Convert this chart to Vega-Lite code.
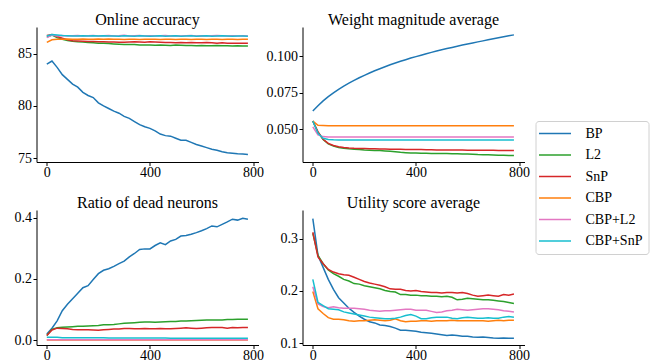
{
  "$schema": "https://vega.github.io/schema/vega-lite/v6.json",
  "padding": {"left": 13.5, "top": 11, "right": 2, "bottom": 0},
  "data": {"values": [
    {"p":"acc","x":0,"BP":84.00,"L2":86.60,"SnP":86.75,"CBP":86.10,"CBP+L2":86.55,"CBP+SnP":86.70},
    {"p":"acc","x":20,"BP":84.30,"L2":86.80,"SnP":86.85,"CBP":86.35,"CBP+L2":86.80,"CBP+SnP":86.85},
    {"p":"acc","x":40,"BP":83.70,"L2":86.55,"SnP":86.65,"CBP":86.40,"CBP+L2":86.70,"CBP+SnP":86.80},
    {"p":"acc","x":60,"BP":83.00,"L2":86.40,"SnP":86.50,"CBP":86.40,"CBP+L2":86.75,"CBP+SnP":86.75},
    {"p":"acc","x":80,"BP":82.55,"L2":86.28,"SnP":86.35,"CBP":86.42,"CBP+L2":86.70,"CBP+SnP":86.72},
    {"p":"acc","x":100,"BP":82.10,"L2":86.20,"SnP":86.25,"CBP":86.40,"CBP+L2":86.72,"CBP+SnP":86.70},
    {"p":"acc","x":120,"BP":81.80,"L2":86.15,"SnP":86.22,"CBP":86.40,"CBP+L2":86.75,"CBP+SnP":86.70},
    {"p":"acc","x":140,"BP":81.30,"L2":86.12,"SnP":86.20,"CBP":86.42,"CBP+L2":86.70,"CBP+SnP":86.72},
    {"p":"acc","x":160,"BP":81.00,"L2":86.08,"SnP":86.18,"CBP":86.40,"CBP+L2":86.72,"CBP+SnP":86.70},
    {"p":"acc","x":180,"BP":80.80,"L2":86.05,"SnP":86.18,"CBP":86.40,"CBP+L2":86.75,"CBP+SnP":86.72},
    {"p":"acc","x":200,"BP":80.30,"L2":86.02,"SnP":86.15,"CBP":86.42,"CBP+L2":86.70,"CBP+SnP":86.70},
    {"p":"acc","x":220,"BP":80.00,"L2":86.00,"SnP":86.15,"CBP":86.40,"CBP+L2":86.72,"CBP+SnP":86.72},
    {"p":"acc","x":240,"BP":79.75,"L2":85.98,"SnP":86.12,"CBP":86.42,"CBP+L2":86.75,"CBP+SnP":86.70},
    {"p":"acc","x":260,"BP":79.50,"L2":85.95,"SnP":86.12,"CBP":86.40,"CBP+L2":86.70,"CBP+SnP":86.70},
    {"p":"acc","x":280,"BP":79.30,"L2":85.92,"SnP":86.10,"CBP":86.40,"CBP+L2":86.72,"CBP+SnP":86.68},
    {"p":"acc","x":300,"BP":79.00,"L2":85.90,"SnP":86.10,"CBP":86.38,"CBP+L2":86.78,"CBP+SnP":86.72},
    {"p":"acc","x":320,"BP":78.80,"L2":85.88,"SnP":86.12,"CBP":86.40,"CBP+L2":86.70,"CBP+SnP":86.70},
    {"p":"acc","x":340,"BP":78.50,"L2":85.88,"SnP":86.15,"CBP":86.40,"CBP+L2":86.72,"CBP+SnP":86.68},
    {"p":"acc","x":360,"BP":78.20,"L2":85.85,"SnP":86.12,"CBP":86.38,"CBP+L2":86.75,"CBP+SnP":86.72},
    {"p":"acc","x":380,"BP":78.00,"L2":85.85,"SnP":86.10,"CBP":86.40,"CBP+L2":86.70,"CBP+SnP":86.70},
    {"p":"acc","x":400,"BP":77.85,"L2":85.85,"SnP":86.15,"CBP":86.40,"CBP+L2":86.72,"CBP+SnP":86.68},
    {"p":"acc","x":420,"BP":77.60,"L2":85.82,"SnP":86.12,"CBP":86.40,"CBP+L2":86.70,"CBP+SnP":86.70},
    {"p":"acc","x":440,"BP":77.30,"L2":85.85,"SnP":86.10,"CBP":86.38,"CBP+L2":86.72,"CBP+SnP":86.72},
    {"p":"acc","x":460,"BP":77.15,"L2":85.82,"SnP":86.08,"CBP":86.40,"CBP+L2":86.75,"CBP+SnP":86.68},
    {"p":"acc","x":480,"BP":77.10,"L2":85.80,"SnP":86.08,"CBP":86.40,"CBP+L2":86.70,"CBP+SnP":86.70},
    {"p":"acc","x":500,"BP":76.90,"L2":85.85,"SnP":86.05,"CBP":86.38,"CBP+L2":86.72,"CBP+SnP":86.72},
    {"p":"acc","x":520,"BP":76.70,"L2":85.82,"SnP":86.08,"CBP":86.40,"CBP+L2":86.70,"CBP+SnP":86.68},
    {"p":"acc","x":540,"BP":76.70,"L2":85.80,"SnP":86.05,"CBP":86.40,"CBP+L2":86.72,"CBP+SnP":86.70},
    {"p":"acc","x":560,"BP":76.50,"L2":85.80,"SnP":86.08,"CBP":86.38,"CBP+L2":86.75,"CBP+SnP":86.72},
    {"p":"acc","x":580,"BP":76.30,"L2":85.78,"SnP":86.05,"CBP":86.40,"CBP+L2":86.70,"CBP+SnP":86.68},
    {"p":"acc","x":600,"BP":76.15,"L2":85.80,"SnP":86.05,"CBP":86.40,"CBP+L2":86.72,"CBP+SnP":86.70},
    {"p":"acc","x":620,"BP":76.00,"L2":85.78,"SnP":86.08,"CBP":86.38,"CBP+L2":86.70,"CBP+SnP":86.72},
    {"p":"acc","x":640,"BP":75.85,"L2":85.78,"SnP":86.05,"CBP":86.40,"CBP+L2":86.72,"CBP+SnP":86.68},
    {"p":"acc","x":660,"BP":75.75,"L2":85.80,"SnP":86.02,"CBP":86.40,"CBP+L2":86.75,"CBP+SnP":86.70},
    {"p":"acc","x":680,"BP":75.60,"L2":85.78,"SnP":86.05,"CBP":86.38,"CBP+L2":86.72,"CBP+SnP":86.72},
    {"p":"acc","x":700,"BP":75.50,"L2":85.78,"SnP":86.02,"CBP":86.40,"CBP+L2":86.70,"CBP+SnP":86.70},
    {"p":"acc","x":720,"BP":75.45,"L2":85.75,"SnP":86.02,"CBP":86.40,"CBP+L2":86.72,"CBP+SnP":86.68},
    {"p":"acc","x":740,"BP":75.40,"L2":85.78,"SnP":86.00,"CBP":86.38,"CBP+L2":86.70,"CBP+SnP":86.70},
    {"p":"acc","x":760,"BP":75.38,"L2":85.75,"SnP":86.02,"CBP":86.40,"CBP+L2":86.72,"CBP+SnP":86.70},
    {"p":"acc","x":780,"BP":75.35,"L2":85.75,"SnP":86.00,"CBP":86.40,"CBP+L2":86.70,"CBP+SnP":86.68},

    {"p":"wm","x":0,"BP":0.0623,"L2":0.0555,"SnP":0.0555,"CBP":0.0555,"CBP+L2":0.0515,"CBP+SnP":0.0555},
    {"p":"wm","x":20,"BP":0.0660,"L2":0.0478,"SnP":0.0480,"CBP":0.0525,"CBP+L2":0.0460,"CBP+SnP":0.0470},
    {"p":"wm","x":40,"BP":0.0693,"L2":0.0428,"SnP":0.0430,"CBP":0.0524,"CBP+L2":0.0448,"CBP+SnP":0.0437},
    {"p":"wm","x":60,"BP":0.0722,"L2":0.0398,"SnP":0.0402,"CBP":0.0523,"CBP+L2":0.0446,"CBP+SnP":0.0428},
    {"p":"wm","x":80,"BP":0.0748,"L2":0.0383,"SnP":0.0387,"CBP":0.0523,"CBP+L2":0.0445,"CBP+SnP":0.0426},
    {"p":"wm","x":100,"BP":0.0772,"L2":0.0374,"SnP":0.0378,"CBP":0.0522,"CBP+L2":0.0445,"CBP+SnP":0.0425},
    {"p":"wm","x":120,"BP":0.0794,"L2":0.0369,"SnP":0.0373,"CBP":0.0523,"CBP+L2":0.0445,"CBP+SnP":0.0425},
    {"p":"wm","x":140,"BP":0.0814,"L2":0.0365,"SnP":0.0370,"CBP":0.0522,"CBP+L2":0.0445,"CBP+SnP":0.0425},
    {"p":"wm","x":160,"BP":0.0833,"L2":0.0362,"SnP":0.0368,"CBP":0.0523,"CBP+L2":0.0445,"CBP+SnP":0.0425},
    {"p":"wm","x":180,"BP":0.0851,"L2":0.0360,"SnP":0.0367,"CBP":0.0522,"CBP+L2":0.0445,"CBP+SnP":0.0425},
    {"p":"wm","x":200,"BP":0.0868,"L2":0.0357,"SnP":0.0366,"CBP":0.0522,"CBP+L2":0.0445,"CBP+SnP":0.0425},
    {"p":"wm","x":220,"BP":0.0884,"L2":0.0355,"SnP":0.0365,"CBP":0.0523,"CBP+L2":0.0445,"CBP+SnP":0.0425},
    {"p":"wm","x":240,"BP":0.0899,"L2":0.0353,"SnP":0.0364,"CBP":0.0522,"CBP+L2":0.0445,"CBP+SnP":0.0425},
    {"p":"wm","x":260,"BP":0.0913,"L2":0.0352,"SnP":0.0363,"CBP":0.0522,"CBP+L2":0.0445,"CBP+SnP":0.0425},
    {"p":"wm","x":280,"BP":0.0927,"L2":0.0350,"SnP":0.0363,"CBP":0.0523,"CBP+L2":0.0445,"CBP+SnP":0.0425},
    {"p":"wm","x":300,"BP":0.0940,"L2":0.0347,"SnP":0.0362,"CBP":0.0522,"CBP+L2":0.0445,"CBP+SnP":0.0425},
    {"p":"wm","x":320,"BP":0.0952,"L2":0.0344,"SnP":0.0361,"CBP":0.0522,"CBP+L2":0.0445,"CBP+SnP":0.0425},
    {"p":"wm","x":340,"BP":0.0964,"L2":0.0340,"SnP":0.0361,"CBP":0.0523,"CBP+L2":0.0445,"CBP+SnP":0.0425},
    {"p":"wm","x":360,"BP":0.0975,"L2":0.0338,"SnP":0.0360,"CBP":0.0522,"CBP+L2":0.0445,"CBP+SnP":0.0425},
    {"p":"wm","x":380,"BP":0.0986,"L2":0.0336,"SnP":0.0360,"CBP":0.0522,"CBP+L2":0.0445,"CBP+SnP":0.0425},
    {"p":"wm","x":400,"BP":0.0996,"L2":0.0335,"SnP":0.0359,"CBP":0.0523,"CBP+L2":0.0445,"CBP+SnP":0.0425},
    {"p":"wm","x":420,"BP":0.1006,"L2":0.0334,"SnP":0.0359,"CBP":0.0522,"CBP+L2":0.0445,"CBP+SnP":0.0425},
    {"p":"wm","x":440,"BP":0.1016,"L2":0.0334,"SnP":0.0358,"CBP":0.0522,"CBP+L2":0.0445,"CBP+SnP":0.0425},
    {"p":"wm","x":460,"BP":0.1025,"L2":0.0333,"SnP":0.0358,"CBP":0.0523,"CBP+L2":0.0445,"CBP+SnP":0.0425},
    {"p":"wm","x":480,"BP":0.1034,"L2":0.0333,"SnP":0.0357,"CBP":0.0522,"CBP+L2":0.0445,"CBP+SnP":0.0425},
    {"p":"wm","x":500,"BP":0.1043,"L2":0.0333,"SnP":0.0357,"CBP":0.0522,"CBP+L2":0.0445,"CBP+SnP":0.0425},
    {"p":"wm","x":520,"BP":0.1051,"L2":0.0332,"SnP":0.0357,"CBP":0.0523,"CBP+L2":0.0445,"CBP+SnP":0.0425},
    {"p":"wm","x":540,"BP":0.1059,"L2":0.0331,"SnP":0.0356,"CBP":0.0522,"CBP+L2":0.0445,"CBP+SnP":0.0425},
    {"p":"wm","x":560,"BP":0.1067,"L2":0.0330,"SnP":0.0356,"CBP":0.0522,"CBP+L2":0.0445,"CBP+SnP":0.0425},
    {"p":"wm","x":580,"BP":0.1075,"L2":0.0329,"SnP":0.0356,"CBP":0.0523,"CBP+L2":0.0445,"CBP+SnP":0.0425},
    {"p":"wm","x":600,"BP":0.1083,"L2":0.0328,"SnP":0.0355,"CBP":0.0522,"CBP+L2":0.0445,"CBP+SnP":0.0425},
    {"p":"wm","x":620,"BP":0.1090,"L2":0.0327,"SnP":0.0355,"CBP":0.0522,"CBP+L2":0.0445,"CBP+SnP":0.0425},
    {"p":"wm","x":640,"BP":0.1097,"L2":0.0325,"SnP":0.0355,"CBP":0.0523,"CBP+L2":0.0445,"CBP+SnP":0.0425},
    {"p":"wm","x":660,"BP":0.1104,"L2":0.0324,"SnP":0.0354,"CBP":0.0522,"CBP+L2":0.0445,"CBP+SnP":0.0425},
    {"p":"wm","x":680,"BP":0.1111,"L2":0.0323,"SnP":0.0354,"CBP":0.0522,"CBP+L2":0.0445,"CBP+SnP":0.0425},
    {"p":"wm","x":700,"BP":0.1118,"L2":0.0322,"SnP":0.0354,"CBP":0.0523,"CBP+L2":0.0445,"CBP+SnP":0.0425},
    {"p":"wm","x":720,"BP":0.1125,"L2":0.0321,"SnP":0.0353,"CBP":0.0522,"CBP+L2":0.0445,"CBP+SnP":0.0425},
    {"p":"wm","x":740,"BP":0.1132,"L2":0.0320,"SnP":0.0353,"CBP":0.0522,"CBP+L2":0.0445,"CBP+SnP":0.0425},
    {"p":"wm","x":760,"BP":0.1139,"L2":0.0319,"SnP":0.0353,"CBP":0.0522,"CBP+L2":0.0445,"CBP+SnP":0.0425},
    {"p":"wm","x":780,"BP":0.1145,"L2":0.0319,"SnP":0.0353,"CBP":0.0522,"CBP+L2":0.0445,"CBP+SnP":0.0425},

    {"p":"dead","x":0,"BP":0.020,"L2":0.015,"SnP":0.015,"CBP":0.000,"CBP+L2":0.001,"CBP+SnP":0.009},
    {"p":"dead","x":20,"BP":0.039,"L2":0.035,"SnP":0.033,"CBP":0.000,"CBP+L2":0.001,"CBP+SnP":0.009},
    {"p":"dead","x":40,"BP":0.063,"L2":0.040,"SnP":0.039,"CBP":0.000,"CBP+L2":0.001,"CBP+SnP":0.009},
    {"p":"dead","x":60,"BP":0.096,"L2":0.042,"SnP":0.038,"CBP":0.000,"CBP+L2":0.001,"CBP+SnP":0.008},
    {"p":"dead","x":80,"BP":0.117,"L2":0.043,"SnP":0.037,"CBP":0.000,"CBP+L2":0.001,"CBP+SnP":0.008},
    {"p":"dead","x":100,"BP":0.135,"L2":0.044,"SnP":0.035,"CBP":0.000,"CBP+L2":0.001,"CBP+SnP":0.008},
    {"p":"dead","x":120,"BP":0.153,"L2":0.045,"SnP":0.034,"CBP":0.000,"CBP+L2":0.001,"CBP+SnP":0.008},
    {"p":"dead","x":140,"BP":0.171,"L2":0.045,"SnP":0.034,"CBP":0.000,"CBP+L2":0.001,"CBP+SnP":0.008},
    {"p":"dead","x":160,"BP":0.178,"L2":0.046,"SnP":0.034,"CBP":0.000,"CBP+L2":0.001,"CBP+SnP":0.008},
    {"p":"dead","x":180,"BP":0.198,"L2":0.047,"SnP":0.033,"CBP":0.000,"CBP+L2":0.001,"CBP+SnP":0.008},
    {"p":"dead","x":200,"BP":0.217,"L2":0.048,"SnP":0.032,"CBP":0.000,"CBP+L2":0.001,"CBP+SnP":0.008},
    {"p":"dead","x":220,"BP":0.228,"L2":0.050,"SnP":0.034,"CBP":0.000,"CBP+L2":0.001,"CBP+SnP":0.008},
    {"p":"dead","x":240,"BP":0.233,"L2":0.050,"SnP":0.035,"CBP":0.000,"CBP+L2":0.001,"CBP+SnP":0.007},
    {"p":"dead","x":260,"BP":0.241,"L2":0.051,"SnP":0.036,"CBP":0.000,"CBP+L2":0.001,"CBP+SnP":0.007},
    {"p":"dead","x":280,"BP":0.250,"L2":0.053,"SnP":0.036,"CBP":0.000,"CBP+L2":0.001,"CBP+SnP":0.007},
    {"p":"dead","x":300,"BP":0.258,"L2":0.055,"SnP":0.038,"CBP":0.000,"CBP+L2":0.001,"CBP+SnP":0.007},
    {"p":"dead","x":320,"BP":0.272,"L2":0.056,"SnP":0.038,"CBP":0.000,"CBP+L2":0.001,"CBP+SnP":0.007},
    {"p":"dead","x":340,"BP":0.283,"L2":0.057,"SnP":0.037,"CBP":0.000,"CBP+L2":0.001,"CBP+SnP":0.007},
    {"p":"dead","x":360,"BP":0.296,"L2":0.058,"SnP":0.037,"CBP":0.000,"CBP+L2":0.001,"CBP+SnP":0.007},
    {"p":"dead","x":380,"BP":0.298,"L2":0.059,"SnP":0.038,"CBP":0.000,"CBP+L2":0.001,"CBP+SnP":0.007},
    {"p":"dead","x":400,"BP":0.298,"L2":0.059,"SnP":0.037,"CBP":0.000,"CBP+L2":0.001,"CBP+SnP":0.007},
    {"p":"dead","x":420,"BP":0.309,"L2":0.058,"SnP":0.037,"CBP":0.000,"CBP+L2":0.001,"CBP+SnP":0.007},
    {"p":"dead","x":440,"BP":0.318,"L2":0.059,"SnP":0.038,"CBP":0.000,"CBP+L2":0.001,"CBP+SnP":0.007},
    {"p":"dead","x":460,"BP":0.312,"L2":0.060,"SnP":0.037,"CBP":0.000,"CBP+L2":0.001,"CBP+SnP":0.007},
    {"p":"dead","x":480,"BP":0.324,"L2":0.061,"SnP":0.037,"CBP":0.000,"CBP+L2":0.001,"CBP+SnP":0.006},
    {"p":"dead","x":500,"BP":0.329,"L2":0.061,"SnP":0.038,"CBP":0.000,"CBP+L2":0.001,"CBP+SnP":0.006},
    {"p":"dead","x":520,"BP":0.340,"L2":0.062,"SnP":0.039,"CBP":0.000,"CBP+L2":0.001,"CBP+SnP":0.006},
    {"p":"dead","x":540,"BP":0.342,"L2":0.062,"SnP":0.040,"CBP":0.000,"CBP+L2":0.001,"CBP+SnP":0.006},
    {"p":"dead","x":560,"BP":0.346,"L2":0.063,"SnP":0.039,"CBP":0.000,"CBP+L2":0.001,"CBP+SnP":0.006},
    {"p":"dead","x":580,"BP":0.351,"L2":0.064,"SnP":0.038,"CBP":0.000,"CBP+L2":0.001,"CBP+SnP":0.006},
    {"p":"dead","x":600,"BP":0.357,"L2":0.065,"SnP":0.039,"CBP":0.000,"CBP+L2":0.001,"CBP+SnP":0.006},
    {"p":"dead","x":620,"BP":0.364,"L2":0.066,"SnP":0.040,"CBP":0.000,"CBP+L2":0.001,"CBP+SnP":0.006},
    {"p":"dead","x":640,"BP":0.373,"L2":0.066,"SnP":0.041,"CBP":0.000,"CBP+L2":0.001,"CBP+SnP":0.006},
    {"p":"dead","x":660,"BP":0.370,"L2":0.066,"SnP":0.041,"CBP":0.000,"CBP+L2":0.001,"CBP+SnP":0.006},
    {"p":"dead","x":680,"BP":0.378,"L2":0.066,"SnP":0.041,"CBP":0.000,"CBP+L2":0.001,"CBP+SnP":0.006},
    {"p":"dead","x":700,"BP":0.386,"L2":0.067,"SnP":0.039,"CBP":0.000,"CBP+L2":0.001,"CBP+SnP":0.006},
    {"p":"dead","x":720,"BP":0.395,"L2":0.067,"SnP":0.041,"CBP":0.000,"CBP+L2":0.001,"CBP+SnP":0.006},
    {"p":"dead","x":740,"BP":0.392,"L2":0.068,"SnP":0.040,"CBP":0.000,"CBP+L2":0.001,"CBP+SnP":0.006},
    {"p":"dead","x":760,"BP":0.398,"L2":0.068,"SnP":0.041,"CBP":0.000,"CBP+L2":0.001,"CBP+SnP":0.006},
    {"p":"dead","x":780,"BP":0.395,"L2":0.068,"SnP":0.041,"CBP":0.000,"CBP+L2":0.001,"CBP+SnP":0.006},

    {"p":"util","x":0,"BP":0.338,"L2":0.310,"SnP":0.312,"CBP":0.199,"CBP+L2":0.208,"CBP+SnP":0.222},
    {"p":"util","x":20,"BP":0.268,"L2":0.268,"SnP":0.265,"CBP":0.166,"CBP+L2":0.175,"CBP+SnP":0.178},
    {"p":"util","x":40,"BP":0.245,"L2":0.252,"SnP":0.252,"CBP":0.157,"CBP+L2":0.170,"CBP+SnP":0.172},
    {"p":"util","x":60,"BP":0.222,"L2":0.240,"SnP":0.241,"CBP":0.149,"CBP+L2":0.168,"CBP+SnP":0.166},
    {"p":"util","x":80,"BP":0.203,"L2":0.233,"SnP":0.236,"CBP":0.146,"CBP+L2":0.170,"CBP+SnP":0.165},
    {"p":"util","x":100,"BP":0.187,"L2":0.228,"SnP":0.233,"CBP":0.146,"CBP+L2":0.168,"CBP+SnP":0.164},
    {"p":"util","x":120,"BP":0.177,"L2":0.222,"SnP":0.231,"CBP":0.145,"CBP+L2":0.167,"CBP+SnP":0.160},
    {"p":"util","x":140,"BP":0.167,"L2":0.219,"SnP":0.230,"CBP":0.143,"CBP+L2":0.167,"CBP+SnP":0.158},
    {"p":"util","x":160,"BP":0.159,"L2":0.214,"SnP":0.226,"CBP":0.142,"CBP+L2":0.167,"CBP+SnP":0.156},
    {"p":"util","x":180,"BP":0.152,"L2":0.213,"SnP":0.222,"CBP":0.143,"CBP+L2":0.166,"CBP+SnP":0.154},
    {"p":"util","x":200,"BP":0.146,"L2":0.210,"SnP":0.218,"CBP":0.143,"CBP+L2":0.165,"CBP+SnP":0.152},
    {"p":"util","x":220,"BP":0.141,"L2":0.208,"SnP":0.215,"CBP":0.144,"CBP+L2":0.163,"CBP+SnP":0.150},
    {"p":"util","x":240,"BP":0.139,"L2":0.206,"SnP":0.213,"CBP":0.145,"CBP+L2":0.162,"CBP+SnP":0.149},
    {"p":"util","x":260,"BP":0.135,"L2":0.204,"SnP":0.211,"CBP":0.144,"CBP+L2":0.161,"CBP+SnP":0.148},
    {"p":"util","x":280,"BP":0.134,"L2":0.201,"SnP":0.208,"CBP":0.143,"CBP+L2":0.162,"CBP+SnP":0.147},
    {"p":"util","x":300,"BP":0.132,"L2":0.199,"SnP":0.204,"CBP":0.144,"CBP+L2":0.162,"CBP+SnP":0.147},
    {"p":"util","x":320,"BP":0.129,"L2":0.198,"SnP":0.203,"CBP":0.147,"CBP+L2":0.163,"CBP+SnP":0.148},
    {"p":"util","x":340,"BP":0.125,"L2":0.193,"SnP":0.203,"CBP":0.143,"CBP+L2":0.164,"CBP+SnP":0.150},
    {"p":"util","x":360,"BP":0.125,"L2":0.193,"SnP":0.201,"CBP":0.141,"CBP+L2":0.165,"CBP+SnP":0.153},
    {"p":"util","x":380,"BP":0.124,"L2":0.192,"SnP":0.200,"CBP":0.142,"CBP+L2":0.165,"CBP+SnP":0.155},
    {"p":"util","x":400,"BP":0.123,"L2":0.192,"SnP":0.201,"CBP":0.142,"CBP+L2":0.163,"CBP+SnP":0.152},
    {"p":"util","x":420,"BP":0.121,"L2":0.191,"SnP":0.199,"CBP":0.143,"CBP+L2":0.163,"CBP+SnP":0.147},
    {"p":"util","x":440,"BP":0.120,"L2":0.191,"SnP":0.198,"CBP":0.143,"CBP+L2":0.163,"CBP+SnP":0.147},
    {"p":"util","x":460,"BP":0.119,"L2":0.190,"SnP":0.197,"CBP":0.142,"CBP+L2":0.161,"CBP+SnP":0.149},
    {"p":"util","x":480,"BP":0.118,"L2":0.190,"SnP":0.197,"CBP":0.143,"CBP+L2":0.159,"CBP+SnP":0.150},
    {"p":"util","x":500,"BP":0.1165,"L2":0.189,"SnP":0.196,"CBP":0.143,"CBP+L2":0.160,"CBP+SnP":0.150},
    {"p":"util","x":520,"BP":0.115,"L2":0.190,"SnP":0.197,"CBP":0.143,"CBP+L2":0.162,"CBP+SnP":0.150},
    {"p":"util","x":540,"BP":0.116,"L2":0.188,"SnP":0.197,"CBP":0.144,"CBP+L2":0.163,"CBP+SnP":0.148},
    {"p":"util","x":560,"BP":0.115,"L2":0.183,"SnP":0.196,"CBP":0.143,"CBP+L2":0.165,"CBP+SnP":0.147},
    {"p":"util","x":580,"BP":0.1135,"L2":0.184,"SnP":0.197,"CBP":0.143,"CBP+L2":0.164,"CBP+SnP":0.149},
    {"p":"util","x":600,"BP":0.1135,"L2":0.186,"SnP":0.195,"CBP":0.143,"CBP+L2":0.163,"CBP+SnP":0.150},
    {"p":"util","x":620,"BP":0.112,"L2":0.185,"SnP":0.192,"CBP":0.143,"CBP+L2":0.164,"CBP+SnP":0.149},
    {"p":"util","x":640,"BP":0.1115,"L2":0.184,"SnP":0.190,"CBP":0.143,"CBP+L2":0.165,"CBP+SnP":0.148},
    {"p":"util","x":660,"BP":0.112,"L2":0.183,"SnP":0.191,"CBP":0.143,"CBP+L2":0.166,"CBP+SnP":0.148},
    {"p":"util","x":680,"BP":0.111,"L2":0.183,"SnP":0.192,"CBP":0.142,"CBP+L2":0.166,"CBP+SnP":0.149},
    {"p":"util","x":700,"BP":0.110,"L2":0.182,"SnP":0.191,"CBP":0.143,"CBP+L2":0.165,"CBP+SnP":0.148},
    {"p":"util","x":720,"BP":0.1095,"L2":0.181,"SnP":0.190,"CBP":0.144,"CBP+L2":0.164,"CBP+SnP":0.148},
    {"p":"util","x":740,"BP":0.110,"L2":0.180,"SnP":0.193,"CBP":0.143,"CBP+L2":0.162,"CBP+SnP":0.150},
    {"p":"util","x":760,"BP":0.1095,"L2":0.178,"SnP":0.192,"CBP":0.144,"CBP+L2":0.161,"CBP+SnP":0.151},
    {"p":"util","x":780,"BP":0.1095,"L2":0.176,"SnP":0.194,"CBP":0.144,"CBP+L2":0.160,"CBP+SnP":0.150}
  ]},
  "columns": 2,
  "spacing": {"column": 44, "row": 48},
  "bounds": "flush",
  "concat": [
    {
      "title": {"text": "Online accuracy", "font": "Liberation Serif"},
      "width": 222, "height": 135,
      "transform": [{"filter": "datum.p == 'acc'"}, {"fold": ["BP","L2","SnP","CBP","CBP+L2","CBP+SnP"], "as": ["method","value"]}],
      "mark": {"type": "line", "strokeWidth": 1.5},
      "encoding": {
        "x": {"field": "x", "type": "quantitative", "title": null, "scale": {"domain": [-40, 821], "nice": false, "zero": false}, "axis": {"values": [0, 400, 800], "labelFont": "Liberation Serif", "labelPadding": 0}},
        "y": {"field": "value", "type": "quantitative", "title": null, "scale": {"domain": [74.62, 87.57], "nice": false, "zero": false}, "axis": {"values": [75, 80, 85], "labelFont": "Liberation Serif"}},
        "color": {"field": "method", "type": "nominal", "title": null, "sort": ["BP","L2","SnP","CBP","CBP+L2","CBP+SnP"], "scale": {"domain": ["BP","L2","SnP","CBP","CBP+L2","CBP+SnP"], "range": ["#1f77b4","#2ca02c","#d62728","#ff7f0e","#e377c2","#17becf"]}, "legend": {"labelFont": "Liberation Serif"}}
      }
    },
    {
      "title": {"text": "Weight magnitude average", "font": "Liberation Serif"},
      "width": 222, "height": 135,
      "transform": [{"filter": "datum.p == 'wm'"}, {"fold": ["BP","L2","SnP","CBP","CBP+L2","CBP+SnP"], "as": ["method","value"]}],
      "mark": {"type": "line", "strokeWidth": 1.5},
      "encoding": {
        "x": {"field": "x", "type": "quantitative", "title": null, "scale": {"domain": [-40, 821], "nice": false, "zero": false}, "axis": {"values": [0, 400, 800], "labelFont": "Liberation Serif", "labelPadding": 0}},
        "y": {"field": "value", "type": "quantitative", "title": null, "scale": {"domain": [0.0274, 0.1199], "nice": false, "zero": false}, "axis": {"values": [0.05, 0.075, 0.1], "format": ".3f", "labelFont": "Liberation Serif"}},
        "color": {"field": "method", "type": "nominal", "title": null, "sort": ["BP","L2","SnP","CBP","CBP+L2","CBP+SnP"], "scale": {"domain": ["BP","L2","SnP","CBP","CBP+L2","CBP+SnP"], "range": ["#1f77b4","#2ca02c","#d62728","#ff7f0e","#e377c2","#17becf"]}, "legend": {"labelFont": "Liberation Serif"}}
      }
    },
    {
      "title": {"text": "Ratio of dead neurons", "font": "Liberation Serif"},
      "width": 222, "height": 135,
      "transform": [{"filter": "datum.p == 'dead'"}, {"fold": ["BP","L2","SnP","CBP","CBP+L2","CBP+SnP"], "as": ["method","value"]}],
      "mark": {"type": "line", "strokeWidth": 1.5},
      "encoding": {
        "x": {"field": "x", "type": "quantitative", "title": null, "scale": {"domain": [-40, 821], "nice": false, "zero": false}, "axis": {"values": [0, 400, 800], "labelFont": "Liberation Serif", "labelPadding": 0}},
        "y": {"field": "value", "type": "quantitative", "title": null, "scale": {"domain": [-0.016, 0.425], "nice": false, "zero": false}, "axis": {"values": [0, 0.2, 0.4], "format": ".1f", "labelFont": "Liberation Serif"}},
        "color": {"field": "method", "type": "nominal", "title": null, "sort": ["BP","L2","SnP","CBP","CBP+L2","CBP+SnP"], "scale": {"domain": ["BP","L2","SnP","CBP","CBP+L2","CBP+SnP"], "range": ["#1f77b4","#2ca02c","#d62728","#ff7f0e","#e377c2","#17becf"]}, "legend": {"labelFont": "Liberation Serif"}}
      }
    },
    {
      "title": {"text": "Utility score average", "font": "Liberation Serif"},
      "width": 222, "height": 135,
      "transform": [{"filter": "datum.p == 'util'"}, {"fold": ["BP","L2","SnP","CBP","CBP+L2","CBP+SnP"], "as": ["method","value"]}],
      "mark": {"type": "line", "strokeWidth": 1.5},
      "encoding": {
        "x": {"field": "x", "type": "quantitative", "title": null, "scale": {"domain": [-40, 821], "nice": false, "zero": false}, "axis": {"values": [0, 400, 800], "labelFont": "Liberation Serif", "labelPadding": 0}},
        "y": {"field": "value", "type": "quantitative", "title": null, "scale": {"domain": [0.0968, 0.3545], "nice": false, "zero": false}, "axis": {"values": [0.1, 0.2, 0.3], "format": ".1f", "labelFont": "Liberation Serif"}},
        "color": {"field": "method", "type": "nominal", "title": null, "sort": ["BP","L2","SnP","CBP","CBP+L2","CBP+SnP"], "scale": {"domain": ["BP","L2","SnP","CBP","CBP+L2","CBP+SnP"], "range": ["#1f77b4","#2ca02c","#d62728","#ff7f0e","#e377c2","#17becf"]}, "legend": {"labelFont": "Liberation Serif"}}
      }
    }
  ],
  "config": {
    "view": {"stroke": null},
    "font": "Liberation Serif",
    "style": {"guide-label": {"font": "Liberation Serif"}, "group-title": {"font": "Liberation Serif"}},
    "axis": {"grid": false, "domainColor": "#000", "tickColor": "#000", "labelColor": "#000", "labelFont": "Liberation Serif", "labelFontSize": 14, "tickSize": 3.5, "labelPadding": 1.5, "domainWidth": 1, "tickWidth": 1},
    "title": {"font": "Liberation Serif", "fontSize": 16, "fontWeight": "normal", "color": "#000", "baseline": "alphabetic", "offset": -0.5},
    "legend": {"orient": "none", "legendX": 499, "legendY": 94, "symbolType": "M-3.2,0H3.2", "symbolSize": 100, "symbolStrokeWidth": 1.5, "symbolOffset": 7, "labelOffset": 23.5, "labelFont": "Liberation Serif", "labelFontSize": 14, "labelColor": "#000", "strokeColor": "#d0d0d0", "cornerRadius": 3, "padding": 5.5, "fillColor": "#fff", "rowPadding": 7.5}
  }
}
